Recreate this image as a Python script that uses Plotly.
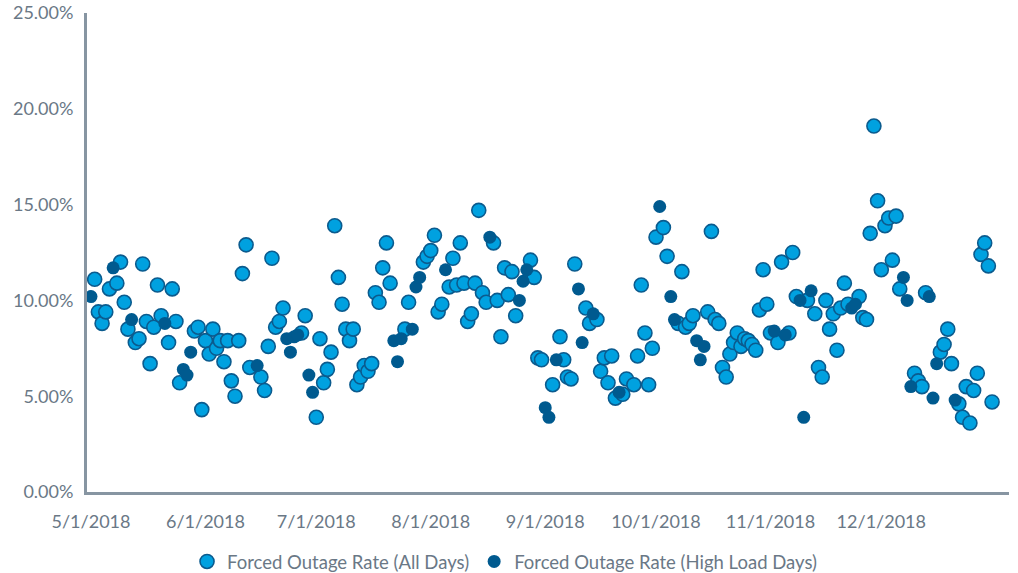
import pandas as pd
import plotly.graph_objects as go

start_date = "2018-05-01"

# Forced Outage Rate (All Days): day offset from 5/1/2018 and value (%)
all_days = [1, 2, 3, 4, 5, 7, 8, 9, 10, 12, 13, 14, 15, 16, 17, 18, 19, 21, 22, 23,
            24, 28, 29, 30, 31, 32, 33, 34, 35, 36, 37, 38, 39, 40, 41, 42, 43, 46, 47, 48,
            49, 50, 51, 52, 57, 58, 61, 62, 63, 64, 65, 66, 67, 68, 69, 70, 71, 72, 73, 74,
            75, 76, 77, 78, 79, 80, 81, 85, 86, 90, 91, 92, 93, 94, 95, 97, 98, 99, 100, 101,
            102, 103, 104, 105, 106, 107, 109, 110, 111, 112, 113, 114, 115, 119, 120, 121, 122, 125, 127, 128,
            129, 130, 131, 134, 135, 137, 138, 139, 140, 141, 142, 144, 145, 147, 148, 149, 150, 151, 152, 153,
            155, 156, 159, 160, 161, 162, 163, 167, 168, 169, 170, 171, 172, 173, 174, 175, 176, 177, 178, 179,
            180, 181, 182, 183, 184, 186, 187, 189, 190, 191, 194, 196, 197, 198, 199, 200, 201, 202, 203, 204,
            205, 208, 209, 210, 211, 212, 213, 214, 215, 216, 217, 218, 219, 223, 224, 225, 226, 230, 231, 232,
            233, 235, 236, 237, 238, 239, 240, 241, 242, 243, 244]
all_vals = [11.1, 9.4, 8.8, 9.4, 10.6, 10.9, 12.0, 9.9, 8.5, 7.8, 8.0, 11.9, 8.9, 6.7, 8.6, 10.8, 9.2, 7.8, 10.6, 8.9,
            5.7, 8.4, 8.6, 4.3, 7.9, 7.2, 8.5, 7.5, 7.9, 6.8, 7.9, 5.8, 5.0, 7.9, 11.4, 12.9, 6.5, 6.0, 5.3, 7.6,
            12.2, 8.6, 8.9, 9.6, 8.3, 9.2, 3.9, 8.0, 5.7, 6.4, 7.3, 13.9, 11.2, 9.8, 8.5, 7.9, 8.5, 5.6, 6.0, 6.6,
            6.3, 6.7, 10.4, 9.9, 11.7, 13.0, 10.9, 8.5, 9.9, 12.0, 12.3, 12.6, 13.4, 9.4, 9.8, 10.7, 12.2, 10.8, 13.0, 10.9,
            8.9, 9.3, 10.9, 14.7, 10.4, 9.9, 13.0, 10.0, 8.1, 11.7, 10.3, 11.5, 9.2, 12.1, 11.2, 7.0, 6.9, 5.6, 8.1, 6.9,
            6.0, 5.9, 11.9, 9.6, 8.8, 9.0, 6.3, 7.0, 5.7, 7.1, 4.9, 5.1, 5.9, 5.6, 7.1, 10.8, 8.3, 5.6, 7.5, 13.3,
            13.8, 12.3, 8.8, 11.5, 8.6, 8.8, 9.2, 9.4, 13.6, 9.0, 8.8, 6.5, 6.0, 7.2, 7.8, 8.3, 7.6, 8.0, 7.9, 7.7,
            7.4, 9.5, 11.6, 9.8, 8.3, 7.8, 12.0, 8.3, 12.5, 10.2, 10.0, 9.3, 6.5, 6.0, 10.0, 8.5, 9.3, 7.4, 9.6, 10.9,
            9.8, 10.2, 9.1, 9.0, 13.5, 19.1, 15.2, 11.6, 13.9, 14.3, 12.1, 14.4, 10.6, 6.2, 5.8, 5.5, 10.4, 7.3, 7.7, 8.5,
            6.7, 4.6, 3.9, 5.5, 3.6, 5.3, 6.2, 12.4, 13.0, 11.8, 4.7]

# Forced Outage Rate (High Load Days)
high_days = [0, 6, 11, 20, 25, 26, 27, 45, 53, 54, 55, 56, 59, 60, 82, 83, 84, 87, 88, 89,
             96, 108, 116, 117, 118, 123, 124, 126, 132, 133, 136, 143, 154, 157, 158, 164, 165, 166, 185, 188,
             192, 193, 195, 206, 207, 220, 221, 222, 227, 228, 229, 234]
high_vals = [10.2, 11.7, 9.0, 8.8, 6.4, 6.1, 7.3, 6.6, 8.0, 7.3, 8.1, 8.2, 6.1, 5.2, 7.9, 6.8, 8.0, 8.5, 10.7, 11.2,
             11.6, 13.3, 10.0, 11.0, 11.6, 4.4, 3.9, 6.9, 10.6, 7.8, 9.3, 5.2, 14.9, 10.2, 9.0, 7.9, 6.9, 7.6, 8.4, 8.2,
             10.0, 3.9, 10.5, 9.6, 9.8, 11.2, 10.0, 5.5, 10.2, 4.9, 6.7, 4.8]

tick_dates = ["2018-05-01", "2018-06-01", "2018-07-01", "2018-08-01",
              "2018-09-01", "2018-10-01", "2018-11-01", "2018-12-01"]
tick_text = ["5/1/2018", "6/1/2018", "7/1/2018", "8/1/2018",
             "9/1/2018", "10/1/2018", "11/1/2018", "12/1/2018"]
y_ticks = [0, 5, 10, 15, 20, 25]
y_tick_text = ["0.00%", "5.00%", "10.00%", "15.00%", "20.00%", "25.00%"]

base = pd.Timestamp(start_date)
all_x = [base + pd.Timedelta(days=d) for d in all_days]
high_x = [base + pd.Timedelta(days=d) for d in high_days]

LIGHT = "#00a1e0"
EDGE = "#0b5b8e"
DARK = "#005a8f"
TEXT = "#6a7886"
AXIS = "#8795a2"

fig = go.Figure()
fig.add_trace(go.Scatter(
    x=all_x, y=all_vals, mode="markers", name="Forced Outage Rate (All Days)",
    marker=dict(size=14, color=LIGHT, line=dict(color=EDGE, width=1.6)),
))
fig.add_trace(go.Scatter(
    x=high_x, y=high_vals, mode="markers", name="Forced Outage Rate (High Load Days)",
    marker=dict(size=13, color=DARK, line=dict(color=DARK, width=0)),
))

fig.update_layout(
    width=1018, height=573,
    margin=dict(l=87, r=9, t=13, b=81, autoexpand=False),
    paper_bgcolor="white", plot_bgcolor="white",
    font=dict(family="Lato, 'Open Sans', sans-serif", size=16, color=TEXT),
    showlegend=True,
    legend=dict(orientation="h", x=0.1085, xanchor="left", y=-0.146, yanchor="middle",
                font=dict(size=18.5, color=TEXT), itemwidth=30,
                traceorder="normal"),
)
fig.update_xaxes(
    type="date", range=["2018-04-29 22:00", "2019-01-04 14:00"],
    tickvals=tick_dates, ticktext=tick_text, automargin=False,
    showgrid=False, zeroline=False, showline=True, linecolor=AXIS, linewidth=3,
    ticks="", ticklabelstandoff=11, tickfont=dict(size=18, color=TEXT),
)
fig.update_yaxes(
    range=[0, 25], tickvals=y_ticks, ticktext=y_tick_text, automargin=False,
    showgrid=False, zeroline=False, showline=True, linecolor=AXIS, linewidth=3,
    ticks="", ticklabelstandoff=7, tickfont=dict(size=18, color=TEXT),
)

# remove the browser's default body margin so the figure sits at the window origin
fig.write_html("out.html", config={"displayModeBar": False},
               post_script="document.body.style.margin='0px';")
